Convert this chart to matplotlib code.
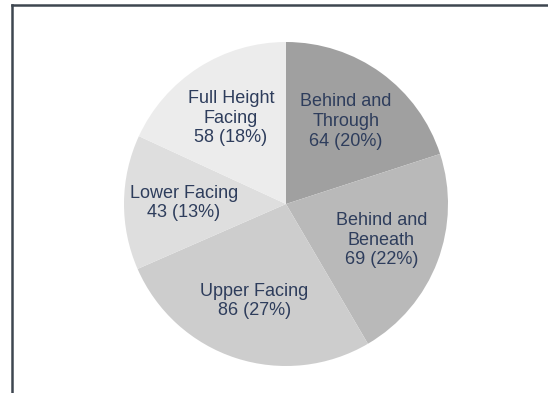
import matplotlib
matplotlib.use("Agg")
import matplotlib.pyplot as plt
from matplotlib.lines import Line2D

NAMES = ["Behind and\nThrough", "Behind and\nBeneath", "Upper Facing",
         "Lower Facing", "Full Height\nFacing"]
VALUES = [64, 69, 86, 43, 58]
COLORS = ["#a0a0a0", "#b9b9b9", "#cdcdcd", "#dedede", "#ececec"]
TEXT_COLOR = "#2e3d5c"

total = sum(VALUES)
labels = [f"{n}\n{v} ({round(100 * v / total)}%)" for n, v in zip(NAMES, VALUES)]

fig = plt.figure(figsize=(5.48, 3.93), dpi=100)
W, H = 548, 393
cx, cy, r = 286, 204, 162
ax = fig.add_axes([(cx - r) / W, (H - cy - r) / H, 2 * r / W, 2 * r / H])

ax.pie(
    VALUES,
    labels=labels,
    colors=COLORS,
    startangle=90,
    counterclock=False,
    labeldistance=0.63,
    wedgeprops=dict(linewidth=0),
    textprops=dict(color=TEXT_COLOR, fontsize=13, family="Liberation Sans",
                   ha="center", va="center", linespacing=1.2),
)
ax.set_xlim(-1, 1)
ax.set_ylim(-1, 1)
ax.set_aspect("equal")

# frame of the original screenshot
fig.add_artist(Line2D([12 / W, 12 / W], [0, 1 - 4.5 / H], color="#3e4650",
                      linewidth=1.8, transform=fig.transFigure))
fig.add_artist(Line2D([12 / W, 1], [1 - 4.5 / H, 1 - 4.5 / H], color="#3e4650",
                      linewidth=1.8, transform=fig.transFigure))

fig.savefig("out.png", dpi=100)
